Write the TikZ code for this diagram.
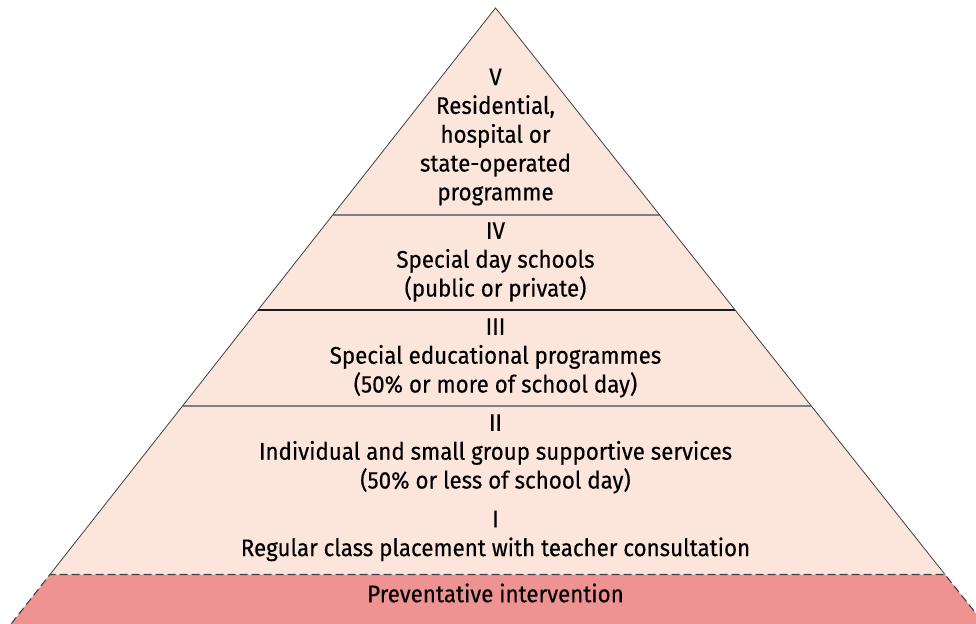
\documentclass[tikz,border=0pt]{standalone}
\usepackage{fontspec}
\setmainfont{Fira Sans}[FakeStretch=0.93, FakeBold=0.35]
\usetikzlibrary{calc,positioning}
\definecolor{tierfill}{HTML}{FCE6DB}
\definecolor{basefill}{HTML}{EE9391}

\begin{document}
\begin{tikzpicture}
  [
  x=0.75pt, y=-0.75pt,
  font=\fontsize{18}{21.6}\selectfont,
  tier/.style={align=center, inner sep=0pt, text=black},
  side/.style={draw=black!75, line width=0.6pt},
  band/.style={fill=basefill, draw=black!75, line width=0.8pt, dash pattern=on 6pt off 3pt}
  ]
\useasboundingbox (0,0) rectangle (976,624);
\clip (0,0) rectangle (976,624);

\coordinate (apex) at (495.5,8);
\coordinate (bl) at (50,574.5);
\coordinate (br) at (945,574.5);
\coordinate (bbl) at ($(apex)!1.12!(bl)$);
\coordinate (bbr) at ($(apex)!1.12!(br)$);

% pyramid
\fill[tierfill] (apex) -- (bl) -- (br) -- cycle;
\foreach \t/\c in {0.365/black!50, 0.533/black!90, 0.7025/black!50} {
  \draw[draw=\c, line width=1.1pt] ($(apex)!\t!(bl)$) -- ($(apex)!\t!(br)$);
}
\draw[side] (bl) -- (apex) -- (br);

% base band
\filldraw[band] (bbl) -- (bl) -- (br) -- (bbr);

\node[tier] (tierV) at (495.5,137) {V\\Residential,\\hospital or\\state-operated\\programme};
\node[tier] (tierIV) at (495.5,262) {IV\\Special day schools\\(public or private)};
\node[tier] (tierIII) at (495.5,358) {III\\Special educational programmes\\(50\% or more of school day)};
\node[tier] (tierII) at (495.5,454) {II\\Individual and small group supportive services\\(50\% or less of school day)};
\node[tier] (tierI) at (495.5,536) {I\\Regular class placement with teacher consultation};
\node[tier] (prevent) at (495.5,593) {Preventative intervention};

\end{tikzpicture}
\end{document}
